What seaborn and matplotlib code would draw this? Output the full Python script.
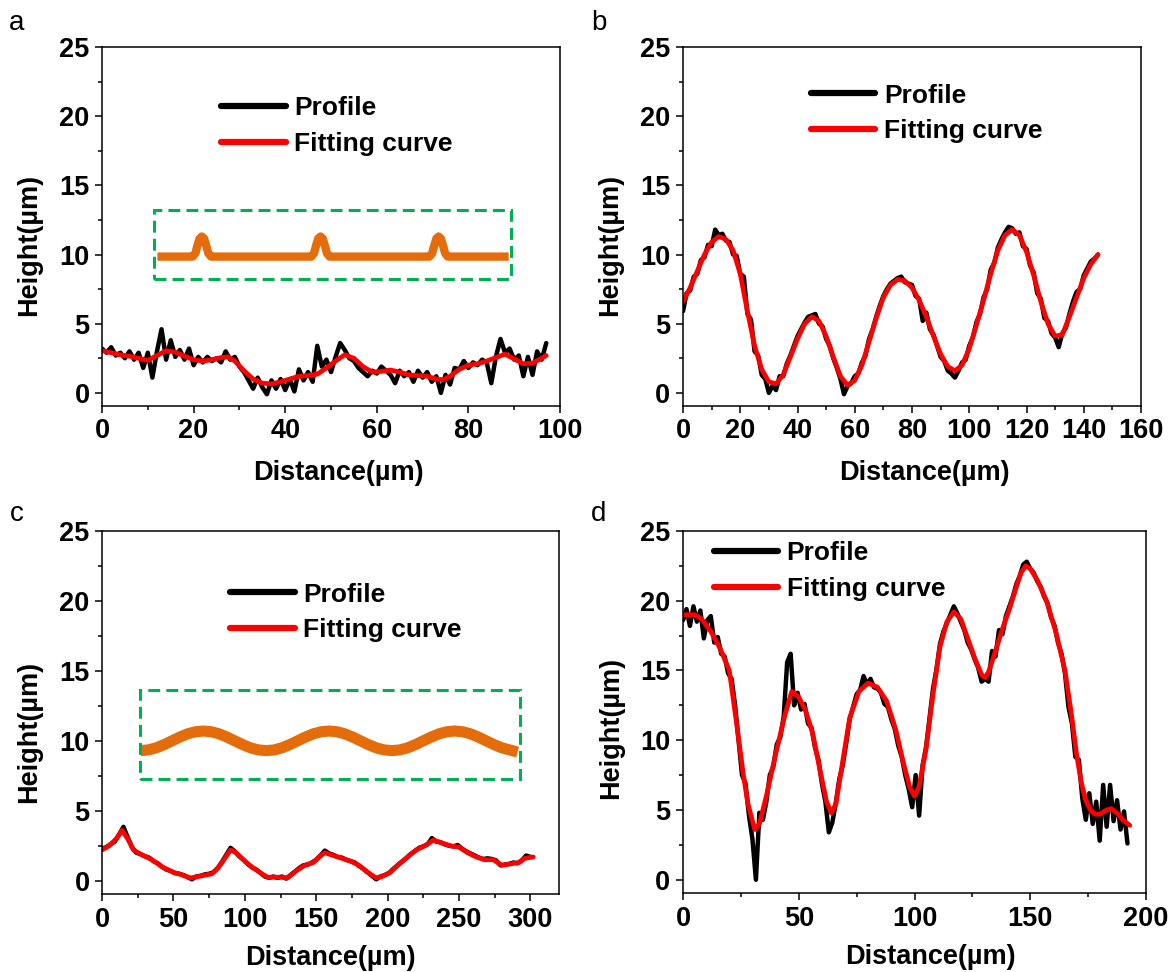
import numpy as np
import matplotlib
matplotlib.use("Agg")
import matplotlib.pyplot as plt
import seaborn as sns
from matplotlib.patches import Rectangle
from matplotlib.ticker import MultipleLocator

# ---------------- data ----------------
# Panel a
a_prof_step = 1.0
a_prof_y = [3.2, 2.9, 3.3, 2.7, 2.9, 2.5, 3.0, 2.4, 2.9, 1.8, 2.9, 1.1, 3.0, 4.6, 2.4, 3.8, 2.6, 3.1, 2.4, 3.2,
            2.0, 2.6, 2.2, 2.6, 2.3, 2.5, 2.2, 3.0, 2.4, 2.6, 1.9, 1.5, 0.9, 0.3, 1.1, 0.4, -0.1, 0.9, 0.3, 1.0,
            0.2, 1.0, 0.1, 1.7, 0.9, 1.5, 0.8, 3.4, 1.9, 2.4, 1.5, 2.6, 3.6, 3.1, 2.5, 2.3, 1.8, 1.5, 1.2, 1.6,
            1.4, 1.9, 1.6, 1.3, 0.7, 1.6, 1.2, 1.5, 0.8, 1.6, 1.1, 1.5, 0.8, 1.2, 0.0, 1.3, 0.6, 1.8, 1.7, 2.3,
            1.8, 2.2, 2.0, 2.4, 2.2, 0.7, 2.6, 3.9, 2.9, 3.2, 2.4, 2.7, 1.2, 2.6, 1.3, 3.0, 2.4, 3.6]
a_fit_x = [0, 2, 4, 6, 8, 10, 12, 14, 16, 18, 20, 22, 24, 26, 27.5, 29, 31, 33, 35, 37,
           39, 41, 43, 45, 47, 49, 51, 53, 55, 57, 59, 61, 63, 65, 67, 69, 71, 73, 74.5, 76,
           78, 80, 82, 84, 86, 88, 90, 92, 94, 96, 97]
a_fit_y = [3.05, 2.9, 2.75, 2.65, 2.5, 2.35, 2.7, 3.05, 2.95, 2.65, 2.4, 2.3, 2.4, 2.55, 2.6, 2.3, 1.6, 1.0, 0.7, 0.65,
           0.8, 1.0, 1.2, 1.25, 1.35, 1.8, 2.3, 2.75, 2.5, 1.9, 1.5, 1.55, 1.65, 1.5, 1.3, 1.25, 1.2, 1.0, 0.95, 1.2,
           1.7, 2.0, 2.1, 2.3, 2.55, 2.8, 2.45, 2.1, 2.15, 2.5, 2.7]
a_inset_x = [12.1, 19.8, 20.4, 20.8, 21.3, 21.8, 22.3, 22.8, 23.2, 23.8,
             45.7, 46.3, 46.7, 47.2, 47.7, 48.2, 48.7, 49.1, 49.7,
             71.5, 72.1, 72.5, 73.0, 73.5, 74.0, 74.5, 74.9, 75.5, 88.8]
a_inset_y = [9.85, 9.85, 10.1, 10.6, 11.15, 11.3, 11.15, 10.6, 10.1, 9.85,
             9.85, 10.1, 10.6, 11.15, 11.3, 11.15, 10.6, 10.1, 9.85,
             9.85, 10.1, 10.6, 11.15, 11.3, 11.15, 10.6, 10.1, 9.85, 9.85]
a_box = [11.3, 8.2, 89.4, 13.2]   # x0, y0, x1, y1

# Panel b
b_prof_step = 1.25
b_prof_y = [5.9, 7.2, 7.4, 8.4, 8.6, 9.6, 9.8, 10.7, 10.6, 11.8,
            11.4, 11.5, 11.0, 10.9, 10.0, 9.9, 8.6, 8.4, 5.7, 5.3,
            3.0, 2.7, 1.3, 1.0, 0.0, 0.5, 0.2, 1.2, 1.2, 2.1,
            2.7, 3.4, 4.1, 4.6, 5.1, 5.5, 5.6, 5.7, 5.0, 4.8,
            3.9, 3.4, 2.5, 1.8, 1.0, -0.1, 0.5, 0.7, 1.2, 1.4,
            2.2, 2.7, 3.9, 4.6, 5.5, 6.3, 7.0, 7.5, 7.9, 8.1,
            8.3, 8.4, 8.0, 7.9, 7.8, 7.0, 6.8, 5.2, 5.8, 4.6,
            4.2, 3.4, 2.6, 2.3, 1.6, 1.4, 1.1, 1.6, 2.2, 2.4,
            3.4, 4.0, 5.1, 5.7, 6.9, 7.5, 8.9, 9.4, 10.5, 11.1,
            11.6, 12.0, 11.9, 11.5, 11.6, 10.6, 10.4, 9.2, 8.7, 7.2,
            6.8, 5.4, 5.2, 4.3, 4.0, 3.3, 4.3, 4.7, 5.7, 6.6,
            7.3, 7.5, 8.5, 9.0, 9.5, 9.7, 10.0]
b_fit_x = [0, 2.5, 5, 7.5, 10, 12.5, 15, 17.5, 20, 22.5, 25, 27.5, 30, 32.5, 35, 37.5, 40, 42.5, 45, 47.5,
           50, 52.5, 55, 57.5, 60, 62.5, 65, 67.5, 70, 72.5, 75, 77.5, 80, 82.5, 85, 87.5, 90, 92.5, 95, 97.5,
           100, 102.5, 105, 107.5, 110, 112.5, 115, 117.5, 120, 122.5, 125, 127.5, 130, 132.5, 135, 137.5, 140, 142.5, 145]
b_fit_y = [6.6, 7.6, 8.8, 10.0, 10.9, 11.3, 11.1, 10.3, 8.6, 5.9, 3.4, 1.7, 0.8, 0.65, 1.3, 2.6, 3.9, 5.0, 5.5, 5.2,
           4.1, 2.6, 1.2, 0.55, 0.9, 2.0, 3.7, 5.4, 6.9, 7.8, 8.2, 8.1, 7.6, 6.7, 5.5, 4.1, 2.8, 1.9, 1.6, 2.0,
           3.2, 4.9, 6.7, 8.6, 10.3, 11.4, 11.8, 11.4, 10.2, 8.5, 6.6, 5.0, 4.1, 4.2, 5.5, 6.9, 8.3, 9.3, 10.0]

# Panel c
c_prof_step = 3.0
c_prof_y = [2.3, 2.4, 2.6, 2.8, 3.3, 3.85, 3.1, 2.4, 2.0, 1.9,
            1.75, 1.65, 1.4, 1.25, 1.0, 0.8, 0.7, 0.55, 0.5, 0.4,
            0.25, 0.1, 0.3, 0.35, 0.45, 0.5, 0.6, 0.9, 1.35, 1.85,
            2.35, 2.1, 1.75, 1.5, 1.2, 0.95, 0.8, 0.55, 0.3, 0.2,
            0.3, 0.2, 0.3, 0.15, 0.4, 0.65, 0.9, 1.1, 1.15, 1.3,
            1.5, 1.8, 2.15, 1.95, 1.85, 1.7, 1.65, 1.5, 1.4, 1.3,
            1.05, 0.85, 0.6, 0.35, 0.1, 0.3, 0.4, 0.55, 0.85, 1.1,
            1.35, 1.6, 1.9, 2.1, 2.35, 2.45, 2.6, 3.05, 2.8, 2.75,
            2.6, 2.5, 2.45, 2.55, 2.3, 2.1, 1.95, 1.8, 1.65, 1.55,
            1.6, 1.55, 1.45, 1.1, 1.15, 1.2, 1.3, 1.25, 1.45, 1.8,
            1.7]
c_fit_x = [0, 5, 10, 14, 18, 22, 27, 35, 42, 50, 55, 62, 70, 77, 82, 86, 90, 94, 100, 106,
           112, 116, 125, 130, 136, 142, 148, 152, 156, 162, 168, 174, 180, 186, 192, 196, 202, 208, 214, 220,
           226, 232, 238, 244, 250, 256, 262, 268, 274, 280, 286, 292, 296, 302]
c_fit_y = [2.2, 2.5, 3.0, 3.6, 3.0, 2.2, 1.9, 1.5, 1.0, 0.6, 0.45, 0.2, 0.35, 0.5, 1.0, 1.6, 2.2, 2.0, 1.4, 0.9,
           0.5, 0.25, 0.25, 0.2, 0.7, 1.1, 1.3, 1.7, 2.0, 1.8, 1.6, 1.4, 1.1, 0.6, 0.2, 0.3, 0.6, 1.2, 1.7, 2.2,
           2.5, 2.9, 2.7, 2.5, 2.4, 2.0, 1.7, 1.5, 1.5, 1.1, 1.2, 1.3, 1.6, 1.7]
c_inset_x = [27, 32.5, 38, 43.5, 49, 54.5, 60, 65.5, 71, 76.5, 82, 87.5, 93, 98.5, 104, 109.5,
             115, 120.5, 126, 131.5, 137, 142.5, 148, 153.5, 159, 164.5, 170, 175.5, 181, 186.5, 192, 197.5,
             203, 208.5, 214, 219.5, 225, 230.5, 236, 241.5, 247, 252.5, 258, 263.5, 269, 274.5, 280, 285.5, 291]
c_inset_y = [9.3, 9.35, 9.5, 9.73, 10.0, 10.27, 10.5, 10.65, 10.7, 10.65, 10.5, 10.27, 10.0, 9.73, 9.5, 9.35,
             9.3, 9.35, 9.5, 9.73, 10.0, 10.27, 10.5, 10.65, 10.7, 10.65, 10.5, 10.27, 10.0, 9.73, 9.5, 9.35,
             9.3, 9.35, 9.5, 9.73, 10.0, 10.27, 10.5, 10.65, 10.7, 10.65, 10.5, 10.27, 10.0, 9.73, 9.5, 9.35,
             9.2]
c_box = [26.4, 7.3, 292.7, 13.6]

# Panel d
d_prof_step = 1.5
d_prof_y = [18.6, 19.4, 18.2, 19.6, 18.5, 19.3, 17.3, 18.6, 18.9, 17.0,
            17.4, 16.2, 16.0, 14.8, 14.4, 12.5, 10.0, 7.5, 6.9, 4.6,
            2.9, 0.0, 4.8, 4.3, 5.6, 7.5, 8.1, 9.7, 10.2, 11.7,
            15.6, 16.2, 12.5, 13.4, 12.2, 12.6, 11.2, 10.9, 9.5, 8.6,
            6.9, 5.6, 3.4, 4.1, 5.5, 7.2, 8.2, 9.8, 11.5, 12.4,
            13.3, 13.6, 14.6, 14.0, 14.4, 13.8, 13.7, 13.4, 12.6, 12.4,
            11.5, 10.8, 9.6, 8.8, 7.5, 6.5, 5.2, 7.5, 4.6, 8.2,
            9.5, 11.6, 13.7, 15.1, 16.9, 17.8, 18.4, 19.0, 19.6, 19.1,
            18.5, 17.9, 17.0, 16.5, 15.8, 15.2, 14.2, 14.4, 14.2, 16.4,
            16.0, 17.9, 17.6, 18.9, 19.6, 20.3, 21.2, 21.8, 22.6, 22.8,
            22.3, 22.0, 21.4, 21.0, 20.3, 19.8, 18.8, 18.2, 17.0, 16.2,
            14.8, 12.4, 11.2, 8.8, 8.6, 5.8, 4.3, 6.2, 4.0, 5.6,
            2.8, 6.8, 3.8, 6.8, 4.2, 5.7, 3.6, 4.9, 2.6]
d_fit_x = [0, 5, 8, 12, 16, 20, 23, 26, 28, 30, 31, 33, 36, 40, 44, 47, 50, 53, 56, 59,
           62, 64, 66, 69, 72, 76, 80, 84, 88, 92, 95, 98, 100, 102, 105, 108, 111, 114, 117, 120,
           123, 126, 129, 130.5, 132, 135, 138, 141, 144, 146, 148, 150, 153, 157, 161, 165, 168, 170, 172, 174,
           176, 178, 180, 183, 185, 188, 190, 193]
d_fit_y = [19.0, 19.0, 18.7, 17.8, 16.6, 15.0, 11.4, 7.6, 5.5, 4.2, 3.6, 4.0, 6.0, 9.0, 11.8, 13.5, 13.1, 12.1, 10.5, 8.0,
           5.6, 4.8, 5.4, 8.5, 11.6, 13.5, 14.1, 13.8, 12.8, 10.7, 8.5, 6.6, 6.0, 6.7, 9.4, 13.3, 16.7, 18.5, 19.2, 18.7,
           17.3, 15.9, 14.7, 14.5, 14.9, 16.4, 18.0, 19.4, 21.0, 22.0, 22.5, 22.3, 21.5, 20.0, 17.8, 15.0, 11.6, 9.0, 7.0, 5.7,
           5.0, 4.7, 4.7, 5.0, 5.1, 4.7, 4.3, 3.9]

legend_labels = ["Profile", "Fitting curve"]
panel_letters = ["a", "b", "c", "d"]

# ---------------- style ----------------
sns.set_style("ticks")
plt.rcParams['font.family'] = ['Liberation Sans', 'DejaVu Sans']
plt.rcParams['font.weight'] = 'bold'
plt.rcParams['text.color'] = 'black'
plt.rcParams['axes.labelcolor'] = 'black'
plt.rcParams['axes.unicode_minus'] = False

W, H = 1172, 972
fig = plt.figure(figsize=(W / 100, H / 100), dpi=100)


def add_ax(l, r, t, b):
    return fig.add_axes([l / W, 1 - b / H, (r - l) / W, (b - t) / H])


axes_px = {
    "a": (102, 560, 47, 406),
    "b": (683, 1141, 47, 406),
    "c": (102, 559, 531, 894),
    "d": (683, 1146, 531, 893),
}

ORANGE = "#E46C0A"
GREEN = "#00B050"


def style_axis(ax, xmax, xmaj, xminor, xlab_x, xlab_y, ylab_x, ylab_y):
    ax.set_xlim(0, xmax)
    ax.set_ylim(-0.95, 25)
    ax.xaxis.set_major_locator(MultipleLocator(xmaj))
    ax.xaxis.set_minor_locator(MultipleLocator(xminor))
    ax.yaxis.set_major_locator(MultipleLocator(5))
    ax.yaxis.set_minor_locator(MultipleLocator(2.5))
    ax.tick_params(which='both', direction='out', width=1.1, color='black',
                   top=False, right=False, labelcolor='black')
    ax.tick_params(which='major', length=5, labelsize=19.5, pad=4)
    ax.tick_params(which='minor', length=3)
    for s in ax.spines.values():
        s.set_visible(True)
        s.set_linewidth(1.1)
        s.set_color('black')
    ax.set_xlabel("Distance(µm)", fontsize=19.5, fontweight='bold', color='black')
    ax.set_ylabel("Height(µm)", fontsize=19.5, fontweight='bold', color='black')
    ax.xaxis.set_label_coords(xlab_x, xlab_y)
    ax.yaxis.set_label_coords(ylab_x, ylab_y)


def draw_profiles(ax, prof_x, prof_y, fit_x, fit_y):
    sns.lineplot(x=prof_x, y=prof_y, ax=ax, color='black', lw=3.2, label=legend_labels[0],
                 estimator=None, sort=False, legend=False)
    sns.lineplot(x=fit_x, y=fit_y, ax=ax, color='#FF0000', lw=3.4, label=legend_labels[1],
                 estimator=None, sort=False, legend=False)


def add_legend(ax, x, y):
    leg = ax.legend(loc='upper left', bbox_to_anchor=(x, y), borderaxespad=0, borderpad=0,
                    frameon=False, handlelength=2.45, handletextpad=0.32,
                    labelspacing=0.45, prop={'weight': 'bold', 'size': 19})
    for h in leg.get_lines():
        h.set_linewidth(4.5)
    for t in leg.get_texts():
        t.set_color('black')


def add_inset(ax, box, ix, iy, lw):
    x0, y0, x1, y1 = box
    ax.add_patch(Rectangle((x0, y0), x1 - x0, y1 - y0, fill=False, edgecolor=GREEN,
                           lw=2.2, linestyle=(0, (3.9, 2.0)), zorder=3))
    sns.lineplot(x=ix, y=iy, ax=ax, color=ORANGE, lw=lw, estimator=None, sort=False,
                 legend=False, solid_capstyle='butt', solid_joinstyle='round')


# panel a
ax = add_ax(*axes_px["a"])
draw_profiles(ax, np.arange(len(a_prof_y)) * a_prof_step, a_prof_y, a_fit_x, a_fit_y)
add_inset(ax, a_box, a_inset_x, a_inset_y, 6.0)
style_axis(ax, 100, 20, 10, 0.517, -0.15, -0.13, 0.45)
add_legend(ax, 0.260, 0.863)

# panel b
ax = add_ax(*axes_px["b"])
draw_profiles(ax, np.arange(len(b_prof_y)) * b_prof_step, b_prof_y, b_fit_x, b_fit_y)
style_axis(ax, 160, 20, 10, 0.528, -0.15, -0.13, 0.45)
add_legend(ax, 0.279, 0.898)

# panel c
ax = add_ax(*axes_px["c"])
draw_profiles(ax, np.arange(len(c_prof_y)) * c_prof_step, c_prof_y, c_fit_x, c_fit_y)
add_inset(ax, c_box, c_inset_x, c_inset_y, 8.0)
style_axis(ax, 320, 50, 25, 0.50, -0.14, -0.13, 0.446)
add_legend(ax, 0.280, 0.858)

# panel d
ax = add_ax(*axes_px["d"])
draw_profiles(ax, np.arange(len(d_prof_y)) * d_prof_step, d_prof_y, d_fit_x, d_fit_y)
style_axis(ax, 200, 50, 25, 0.535, -0.14, -0.127, 0.455)
add_legend(ax, 0.066, 0.971)

# panel letters
for letter, (px, py) in zip(panel_letters, [(9, 30), (591, 30), (10, 521), (591, 521)]):
    fig.text(px / W, 1 - py / H, letter, fontsize=20, fontweight='normal', ha='left', va='baseline')

fig.savefig("out.png", dpi=100, facecolor='white')
